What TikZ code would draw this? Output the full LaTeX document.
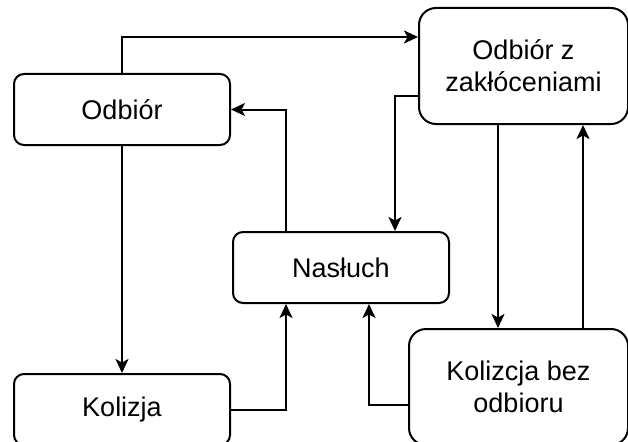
\documentclass[tikz,border=0pt]{standalone}
\usepackage{fontspec}
\setmainfont{Liberation Sans}
\usepackage{tikz}
\usetikzlibrary{positioning,arrows.meta}
\tikzset{>={Stealth[width=13pt,length=14pt,inset=3.5pt]}}
\tikzstyle{state} = [draw=black, fill=white, line width=2pt, rectangle, rounded corners=10pt, align=center, font=\fontsize{27}{32}\selectfont, minimum height=71pt, minimum width=216pt, inner sep=0pt]
\tikzstyle{bigstate} = [state, rounded corners=17pt, minimum height=116pt]
\tikzstyle{link} = [->, draw=black, line width=2pt]

\begin{document}
\begin{tikzpicture}[x=1pt, y=-1pt]

    \path[use as bounding box, clip] (0,0) rectangle (628,441);

    \node[state] (odbior) at (122,109.5) {Odbiór};
    \node[state, below=227pt of odbior] (kolizja) {Kolizja};
    \node[state, below right=85pt and 1pt of odbior] (nasluch) {Nasłuch};
    \node[bigstate, right=187pt of odbior, yshift=43.5pt, minimum width=209pt] (zaklocenia) {Odbiór z\\ zakłóceniami};
    \node[bigstate, below=203pt of zaklocenia, xshift=-5pt, minimum width=219pt] (bezodbioru) {Kolizcja bez\\ odbioru};

    \draw[link] (odbior.north) |- ([yshift=29pt]zaklocenia.west);
    \draw[link] ([xshift=-55pt]nasluch.north) |- (odbior.east);
    \draw[link] (odbior) -- (kolizja);
    \draw[link] (kolizja.east) -| ([xshift=-55pt]nasluch.south);

    \draw[link] ([yshift=-30pt]zaklocenia.west) -| ([xshift=54pt]nasluch.north);
    \draw[link] ([xshift=-20.5pt]bezodbioru.north |- zaklocenia.south) -- ([xshift=-20.5pt]bezodbioru.north);
    \draw[link] ([xshift=64.5pt]bezodbioru.north) -- ([xshift=64.5pt]bezodbioru.north |- zaklocenia.south);
    \draw[link] ([yshift=-18pt]bezodbioru.west) -| ([xshift=28pt]nasluch.south);

\end{tikzpicture}
\end{document}
